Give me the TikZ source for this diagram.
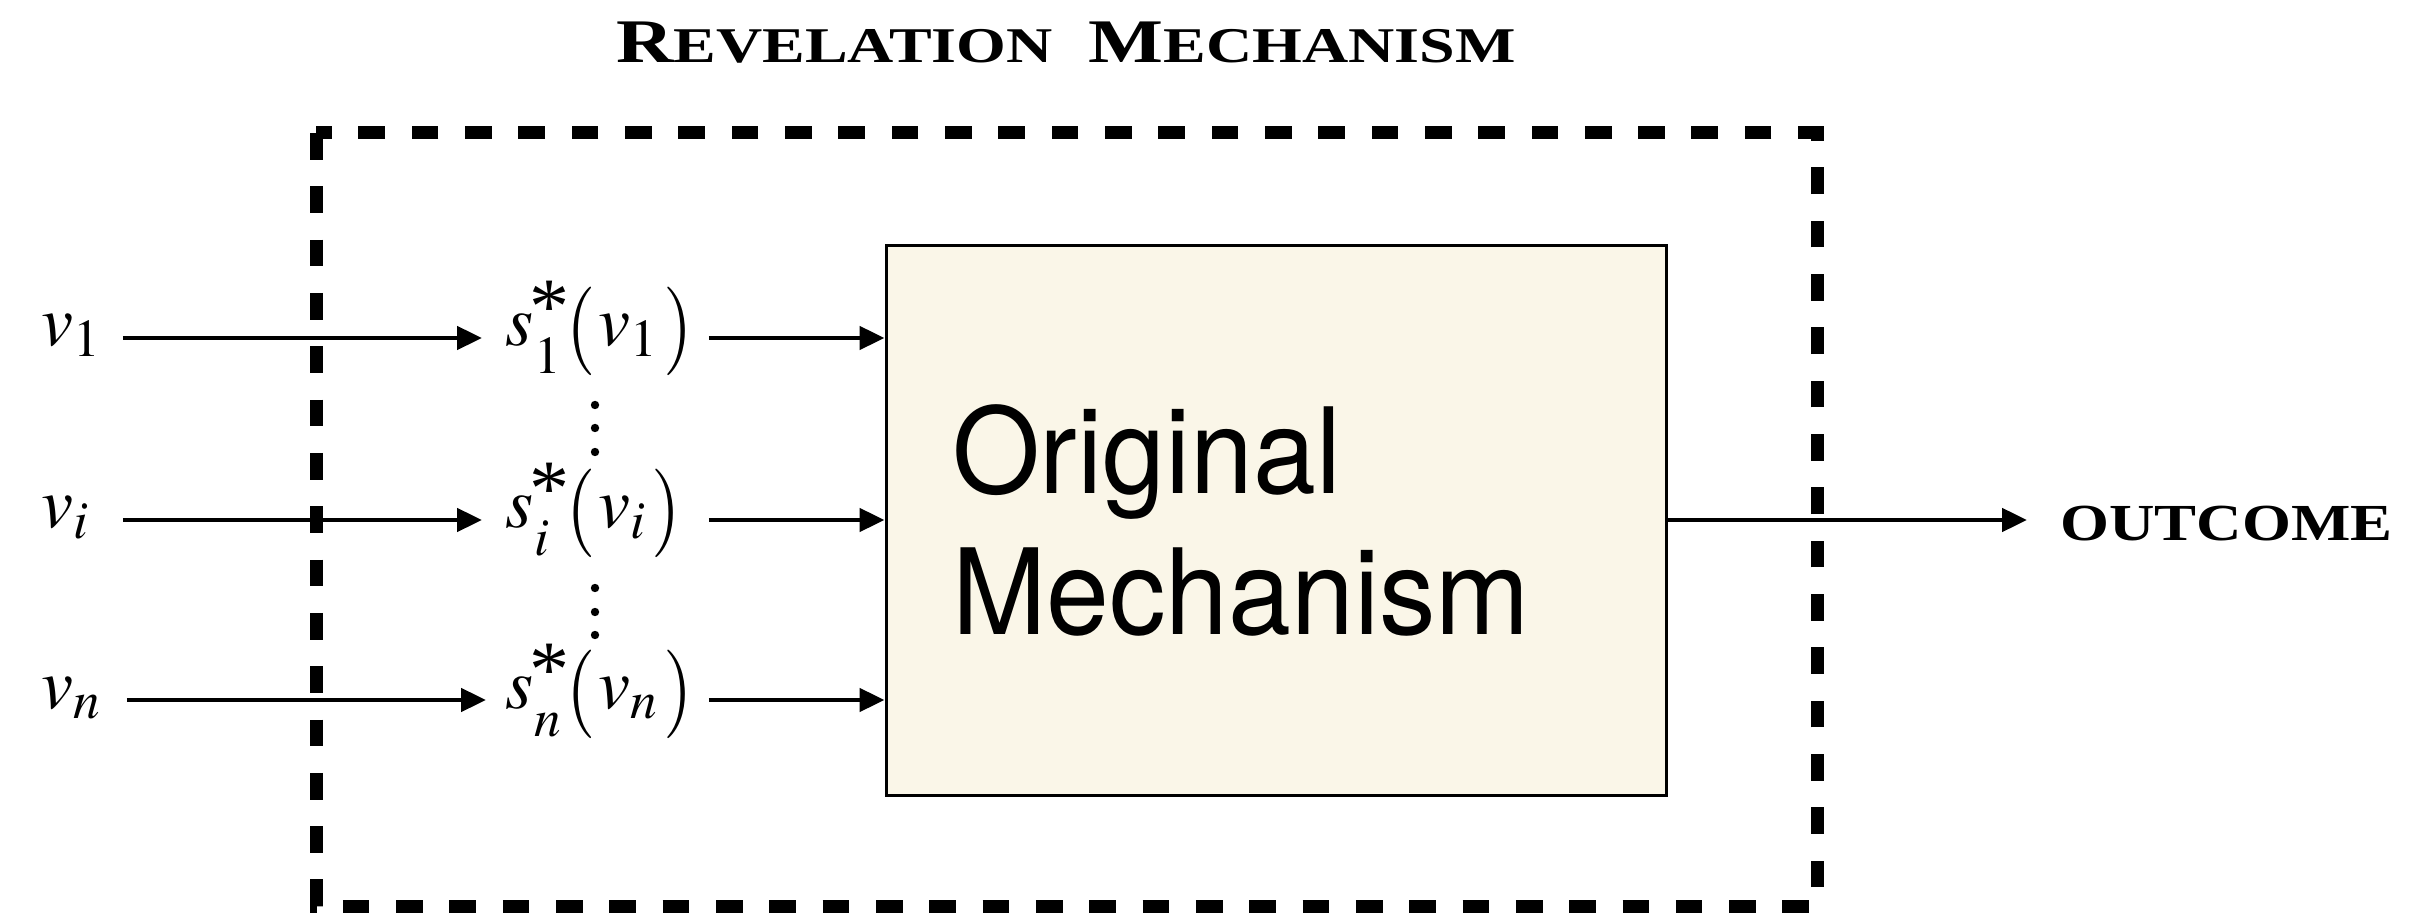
\documentclass[tikz,border=0pt]{standalone}
\usepackage{mathptmx}
\usepackage{graphicx}
\usepackage[no-math]{fontspec}
\usetikzlibrary{arrows.meta,calc}
\newfontfamily\capsfont[FakeStretch=1.28]{Liberation Serif}
\newfontfamily\outfont[FakeStretch=1.21]{Liberation Serif}
\newfontfamily\timesfont{Liberation Serif}
\newfontfamily\boxfont[FakeStretch=0.95]{TeX Gyre Heros}
\definecolor{omfill}{RGB}{250,246,232}
\newcommand\starsub[1]{%
  \setbox0\hbox{\kern-1pt\raisebox{6pt}{\timesfont\fontsize{40pt}{40pt}\selectfont *}\kern-1.5pt}%
  \setbox2\hbox{\kern1.5pt\raisebox{-14pt}{$\scriptstyle #1$}}%
  \ifdim\wd0>\wd2 \rlap{\box2}\box0 \else \rlap{\box0}\box2 \fi}
\newcommand\lpar{\raisebox{-4pt}{\scalebox{1.05}[1.23]{$($}}\kern1.5pt}
\newcommand\rpar{\kern2.5pt\raisebox{-4pt}{\scalebox{1.05}[1.23]{$)$}}}
\begin{document}
\begin{tikzpicture}[x=0.5pt,y=-0.5pt]
\tikzset{
  arr/.style={line width=2.35pt, -{Triangle[length=12.5pt,width=11.5pt]}},
  lbl/.style={inner sep=0pt, anchor=base west, align=left, font=\fontsize{36pt}{36pt}\selectfont},
  vlbl/.style={lbl, text width=27pt},
  slbl/.style={lbl, text width=90pt},
  dashbox/.style={line width=6.5pt, dash pattern=on 13.33pt off 13.33pt},
  ombox/.style={draw, line width=1.5pt, fill=omfill, minimum width=390.25pt, minimum height=274.75pt,
     inner xsep=33pt, inner ysep=0pt, text width=324.25pt, align=left,
     font=\boxfont\fontsize{59.5pt}{70.5pt}\selectfont},
  dotstyle/.style={fill=black},
}
\useasboundingbox (0,0) rectangle (2434,913);
% rows
\coordinate (r1) at (0,338);
\coordinate (ri) at (0,520);
\coordinate (rn) at (0,700);
% dashed frame
\draw[dashbox] (316,133) rectangle (1817,906);
% title
\node[inner sep=0pt, anchor=base] (title) at (1066,63) {\capsfont\bfseries
  {\fontsize{31pt}{31pt}\selectfont R}{\fontsize{25pt}{25pt}\selectfont EVELATION}\hspace{18pt}{\fontsize{31pt}{31pt}\selectfont M}{\fontsize{25pt}{25pt}\selectfont ECHANISM}};
% original mechanism
\node[ombox] (om) at (1276.25,520.25) {Original\\Mechanism};
% labels
\node[vlbl] (v1) at (41,346) {$v_1$};
\node[vlbl] (vi) at (41,528) {$v_i$};
\node[vlbl] (vn) at (41,708) {$v_n$};
\node[slbl] (s1) at (505,346) {$s$\kern-1pt\starsub{1}\lpar$v_1$\rpar};
\node[slbl] (si) at (505,528) {$s$\kern-1pt\starsub{i}\lpar$v_i$\rpar};
\node[slbl] (sn) at (505,708) {$s$\kern-1pt\starsub{n}\lpar$v_n$\rpar};
\node[inner sep=0pt, anchor=base west, font=\outfont\bfseries\fontsize{26pt}{26pt}\selectfont] (out) at (2060,541) {OUTCOME};
% dots
\foreach \yy in {405,428,452,588,612,635} \fill[dotstyle] (595,\yy) circle[radius=4.2];
% arrows
\draw[arr, shorten <=13.5pt, shorten >=11.5pt] (v1.east |- r1) -- (s1.west |- r1);
\draw[arr, shorten <=13.5pt, shorten >=11.5pt] (vi.east |- ri) -- (si.west |- ri);
\draw[arr, shorten <=15.5pt, shorten >=9.5pt] (vn.east |- rn) -- (sn.west |- rn);
\draw[arr, shorten <=11.5pt] (s1.east |- r1) -- (om.west |- r1);
\draw[arr, shorten <=11.5pt] (si.east |- ri) -- (om.west |- ri);
\draw[arr, shorten <=11.5pt] (sn.east |- rn) -- (om.west |- rn);
\draw[arr, shorten >=16.5pt] (om.east |- ri) -- (out.west |- ri);
\end{tikzpicture}
\end{document}
